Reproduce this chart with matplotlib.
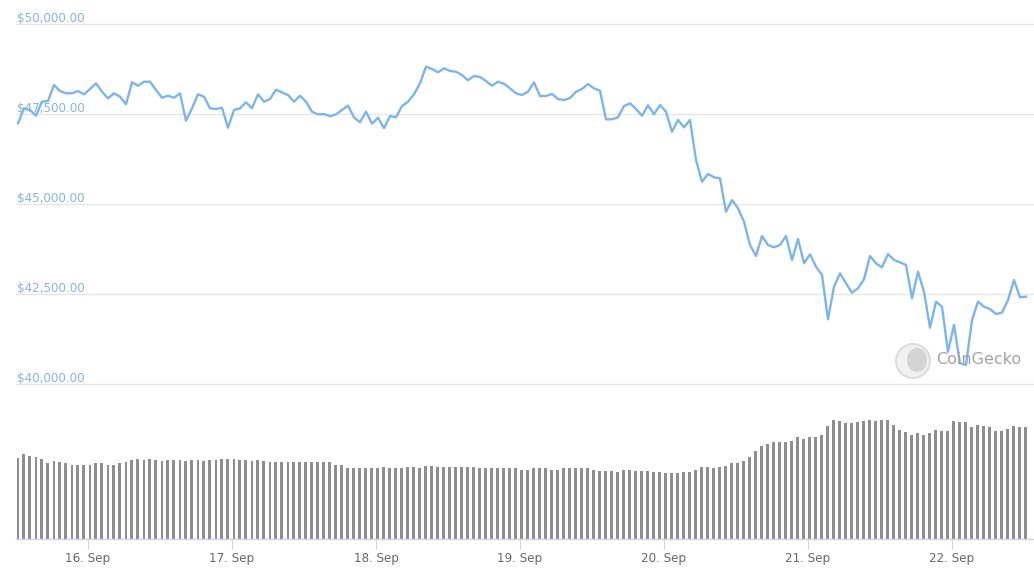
import numpy as np
import pandas as pd
import matplotlib
matplotlib.use('Agg')
import matplotlib.pyplot as plt
import matplotlib.dates as mdates
import matplotlib.transforms as mtransforms
from matplotlib.patches import Ellipse

# hourly BTC price (USD), 15 Sep 12:20 -> 22 Sep 12:20
price = [
    47242, 47658, 47611, 47453, 47842, 47861, 48306, 48139, 48075, 48075,
    48139, 48047, 48194, 48353, 48119, 47936, 48075, 47981, 47769, 48381,
    48286, 48397, 48397, 48167, 47953, 48008, 47953, 48075, 47314, 47658,
    48047, 47981, 47658, 47639, 47675, 47120, 47611, 47658, 47825, 47658,
    48047, 47842, 47917, 48175, 48103, 48028, 47842, 48008, 47842, 47564,
    47492, 47500, 47436, 47492, 47611, 47731, 47408, 47269, 47564, 47231,
    47397, 47103, 47444, 47408, 47722, 47842, 48047, 48353, 48814, 48750,
    48658, 48769, 48694, 48675, 48583, 48436, 48556, 48528, 48417, 48286,
    48397, 48342, 48214, 48075, 48028, 48119, 48381, 48000, 48000, 48056,
    47917, 47889, 47944, 48119, 48194, 48333, 48214, 48147, 47353, 47353,
    47408, 47722, 47797, 47639, 47453, 47742, 47492, 47750, 47564, 47008,
    47333, 47131, 47333, 46222, 45619, 45833, 45742, 45714, 44786, 45111,
    44881, 44508, 43861, 43556, 44111, 43861, 43797, 43861, 44111, 43444,
    44028, 43353, 43603, 43258, 43028, 41797, 42703, 43075, 42797, 42536,
    42658, 42908, 43556, 43353, 43242, 43611, 43444, 43381, 43306, 42381,
    43119, 42564, 41564, 42286, 42147, 40897, 41639, 40575, 40528, 41778,
    42286, 42147, 42083, 41944, 41981, 42333, 42889, 42408, 42425,
]

# hourly volume (billion USD)
volume = [
    32.3, 33.9, 33.3, 32.7, 31.9, 30.4, 31.2, 30.8, 30.3, 29.7,
    29.7, 29.7, 29.7, 30.3, 30.3, 29.7, 29.7, 30.3, 30.7, 31.6,
    32.1, 31.6, 32.1, 31.6, 31.1, 31.6, 31.6, 31.6, 31.1, 31.6,
    31.6, 31.1, 31.6, 31.6, 32.1, 32.1, 32.1, 31.6, 31.6, 31.1,
    31.6, 31.1, 30.7, 30.7, 30.7, 30.7, 30.7, 30.7, 30.7, 30.7,
    30.7, 30.7, 30.7, 29.7, 29.7, 28.3, 28.3, 28.3, 28.3, 28.3,
    28.3, 28.8, 28.3, 28.3, 28.3, 28.8, 28.8, 28.3, 29.3, 29.1,
    28.8, 28.8, 28.8, 28.8, 28.8, 28.8, 28.8, 28.3, 28.3, 28.3,
    28.3, 28.3, 28.3, 28.3, 27.7, 27.7, 28.3, 28.3, 28.3, 27.7,
    27.7, 28.3, 28.3, 28.3, 28.3, 28.3, 27.7, 27.2, 27.2, 27.2,
    26.8, 27.7, 27.7, 27.2, 27.2, 27.2, 26.8, 26.8, 26.4, 26.4,
    26.4, 26.8, 26.8, 27.7, 28.7, 28.7, 28.3, 28.7, 29.2, 30.3,
    30.3, 31.2, 32.7, 35.2, 37.2, 37.9, 38.7, 38.7, 38.7, 39.2,
    40.7, 40.1, 40.7, 40.7, 41.7, 45.2, 47.7, 47.2, 46.3, 46.3,
    46.8, 47.2, 47.7, 47.2, 47.7, 47.7, 45.7, 43.7, 42.7, 41.7,
    42.3, 41.7, 42.3, 43.7, 43.2, 43.2, 47.2, 46.8, 46.8, 44.7,
    45.7, 45.2, 44.7, 43.2, 43.2, 44.1, 45.2, 44.7, 44.7,
]

yticks = [40000, 42500, 45000, 47500, 50000]

t0 = pd.Timestamp('2021-09-15 12:20')
times = pd.date_range(t0, periods=len(price), freq='h')
hour = pd.Timedelta(hours=1)

fig = plt.figure(figsize=(10.34, 5.85), dpi=100)
ax = fig.add_axes([16 / 1034, 46 / 585, 1018 / 1034, 539 / 585])
ax2 = ax.twinx()

# volume bars
ax2.bar(times, volume, width=0.5 / 24, color='#8e8e8e', zorder=1)
ax2.set_ylim(0, 539 * 0.4)
ax2.axis('off')

ax.plot(times, price, color='#7cb5ec', lw=1.7, zorder=5)
ax.set_zorder(ax2.get_zorder() + 1)
ax.patch.set_visible(False)

ax.set_xlim(t0 - hour * (2 / 6), t0 + hour * (1016 / 6))
ax.set_ylim(35694, 50667)

ax.set_yticks(yticks)
ax.grid(axis='y', color='#e6e6e6', lw=1)
ax.tick_params(axis='y', left=False, labelleft=False)

trans = mtransforms.blended_transform_factory(ax.transAxes, ax.transData)
for v in yticks:
    ax.annotate(f'${v:,.2f}', xy=(0, v), xycoords=trans, xytext=(0.5, 1.5),
                textcoords='offset points', ha='left', va='baseline',
                color='#86b3e6', fontsize=8.6)

for s in ['top', 'left', 'right']:
    ax.spines[s].set_visible(False)
ax.spines['bottom'].set_color('#ccd6eb')
ax.spines['bottom'].set_linewidth(1)

ax.xaxis.set_major_locator(mdates.DayLocator())
ax.xaxis.set_major_formatter(mdates.DateFormatter('%d. %b'))
ax.tick_params(axis='x', length=7.2, width=0.8, color='#ccd6eb',
               labelcolor='#666666', labelsize=8.6, pad=2)

# watermark
fig.add_artist(Ellipse((913 / 1034, 1 - 361 / 585), 34 / 1034, 34 / 585,
                       transform=fig.transFigure, facecolor='#f1f1f1',
                       edgecolor='#dcdcdc', lw=1.5, zorder=10))
fig.add_artist(Ellipse((917 / 1034, 1 - 360 / 585), 20 / 1034, 24 / 585,
                       transform=fig.transFigure, facecolor='#d4d4d4',
                       edgecolor='none', zorder=11))
fig.text(936 / 1034, 1 - 360 / 585, 'CoinGecko', color='#a3a3a3',
         fontsize=11.5, ha='left', va='center', zorder=12)

fig.savefig('out.png', dpi=100)
